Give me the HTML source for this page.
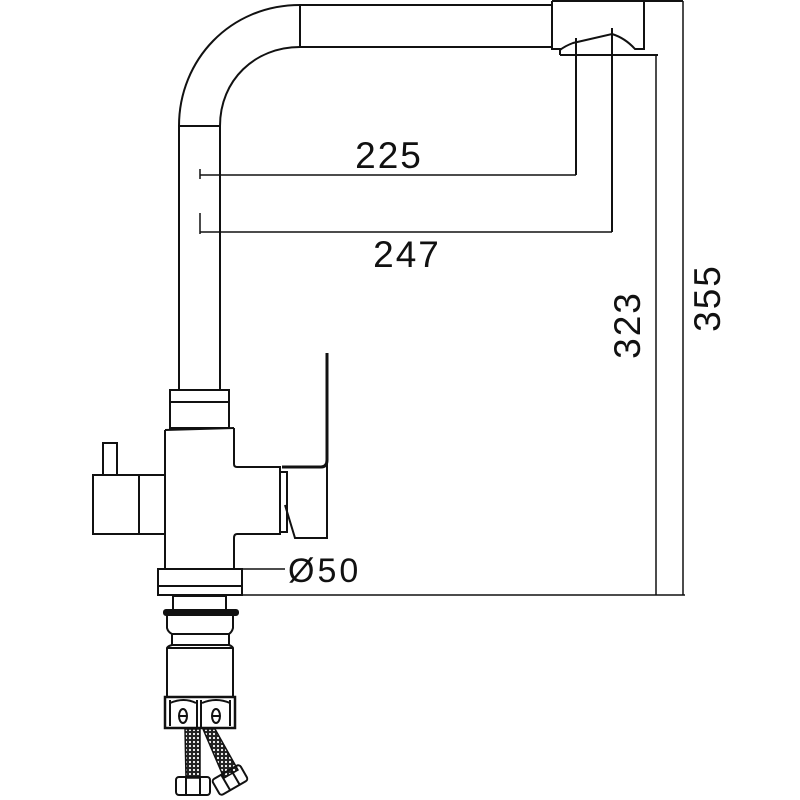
<!DOCTYPE html>
<html><head><style>body{margin:0;background:#fff}svg{display:block}</style></head><body>
<svg width="800" height="800" viewBox="0 0 800 800" xmlns="http://www.w3.org/2000/svg" fill="none" stroke="#111" stroke-width="2" font-family="Liberation Sans, sans-serif">
<defs>
<pattern id="mesh" width="4" height="4" patternUnits="userSpaceOnUse">
<rect width="4" height="4" fill="#222" stroke="none"/>
<circle cx="2" cy="2" r="1.1" fill="#fff" stroke="none"/>
</pattern>
</defs>
<path d="M179 390 V126 C179 60 230 5 300 5 H552"/>
<path d="M220 390 V126 C220 80 255 47 300 47 H552"/>
<line x1="179" y1="126" x2="220" y2="126"/>
<line x1="300" y1="5" x2="300" y2="47"/>
<path d="M552 1 H683"/>
<path d="M552 1 V49 H560 V55"/>
<path d="M644 1 V49 H635 Q625 38 612 34 L573 43 Q565 46 560 50"/>
<line x1="560" y1="55" x2="658" y2="55"/>
<line x1="576" y1="38" x2="576" y2="175"/>
<line x1="200" y1="175" x2="576" y2="175" stroke-width="1.5"/>
<line x1="200" y1="169" x2="200" y2="179" stroke-width="1.5"/>
<line x1="612" y1="28" x2="612" y2="232"/>
<line x1="200" y1="232" x2="612" y2="232" stroke-width="1.5"/>
<line x1="200" y1="213" x2="200" y2="234" stroke-width="1.5"/>
<line x1="656" y1="55" x2="656" y2="595" stroke-width="1.5"/>
<line x1="683" y1="1" x2="683" y2="595" stroke-width="1.5"/>
<line x1="242" y1="595" x2="685" y2="595" stroke-width="1.5"/>
<g fill="#111" stroke="none" font-size="37" letter-spacing="2">
<text x="389" y="168" text-anchor="middle">225</text>
<text x="407" y="267" text-anchor="middle">247</text>
<text transform="translate(640 325) rotate(-90)" text-anchor="middle">323</text>
<text transform="translate(720 298) rotate(-90)" text-anchor="middle">355</text>
<text x="288" y="582" font-size="34" letter-spacing="3">Ø50</text>
</g>
<rect x="170" y="390" width="59" height="38"/>
<line x1="170" y1="402" x2="229" y2="402"/>
<path d="M165 430 V568 M234 428 V464 Q234 467 237 467 H280 V534 H237 Q234 534 234 538 V568"/>
<line x1="165" y1="430" x2="234" y2="428"/>
<rect x="93" y="475" width="72" height="59"/>
<line x1="139" y1="475" x2="139" y2="534"/>
<rect x="103" y="443" width="14" height="32"/>
<path d="M282 467 H321 Q327 467 327 460 V353" stroke-width="3"/>
<path d="M327 460 V538 H295 L285 505"/>
<rect x="280" y="472" width="7" height="60"/>
<rect x="158" y="569" width="84" height="26"/>
<line x1="158" y1="586" x2="242" y2="586"/>
<line x1="242" y1="569" x2="285" y2="569" stroke-width="1.5"/>
<rect x="173" y="596" width="53" height="15"/>
<rect x="164" y="610" width="74" height="5" rx="2" fill="#111"/>
<path d="M167 615 V628 Q168 632 172 634 V645 Q168 646 167 648 V697 M233 615 V628 Q232 632 229 634 V645 Q232 646 233 648 V697"/>
<line x1="172" y1="634" x2="229" y2="634"/>
<line x1="172" y1="645" x2="229" y2="645"/>
<line x1="167" y1="648" x2="233" y2="648"/>
<rect x="165" y="697" width="70" height="31" stroke-width="2.5"/>
<path d="M170 703 Q184 697 196 703 M202 703 Q216 697 230 703"/>
<line x1="170" y1="700" x2="170" y2="726"/>
<line x1="230" y1="700" x2="230" y2="726"/>
<line x1="197" y1="700" x2="197" y2="728"/>
<line x1="201" y1="700" x2="201" y2="728"/>
<ellipse cx="183" cy="716" rx="4" ry="7"/>
<line x1="179" y1="716" x2="187" y2="716"/>
<ellipse cx="216" cy="716" rx="4" ry="7"/>
<line x1="212" y1="716" x2="220" y2="716"/>
<path d="M185 729 L186 778 H200 L200 729 Z" fill="url(#mesh)" stroke-width="1.5"/>
<path d="M203 729 L224 778 L238 770 L215 729 Z" fill="url(#mesh)" stroke-width="1.5"/>
<rect x="176" y="777" width="34" height="18" rx="3"/>
<line x1="186" y1="777" x2="186" y2="795"/>
<line x1="200" y1="777" x2="200" y2="795"/>
<g transform="translate(230 780) rotate(-30)">
<rect x="-16" y="-9" width="32" height="18" rx="3"/>
<line x1="-5" y1="-9" x2="-5" y2="9"/>
<line x1="6" y1="-9" x2="6" y2="9"/>
</g>
</svg>
</body></html>
